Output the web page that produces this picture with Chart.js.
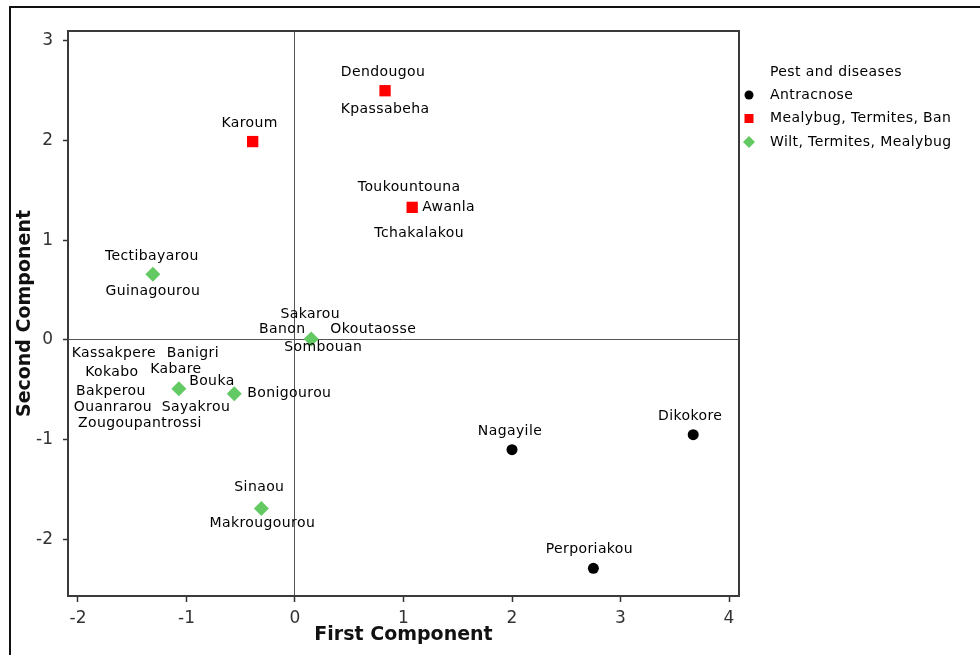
<!DOCTYPE html>
<html>
<head>
<meta charset="utf-8">
<script src="https://cdn.jsdelivr.net/npm/chart.js@4/dist/chart.umd.min.js"></script>
<style>
  html, body { margin: 0; padding: 0; background: #fff; }
  #wrap { position: relative; width: 980px; height: 655px; overflow: hidden; }
  #frame { position: absolute; left: 9px; top: 6px; right: -4px; bottom: -4px;
           border-top: 2px solid #111; border-left: 2px solid #111; }
  #c { position: absolute; left: 0; top: 0; }
</style>
</head>
<body>
<div id="wrap">
  <div id="frame"></div>
  <canvas id="c" width="980" height="655"></canvas>
</div>
<script>
// Principal component scores of the sites, grouped by dominant pest / disease
const seriesNames = ['Antracnose', 'Mealybug, Termites, Ban', 'Wilt, Termites, Mealybug'];
const legendTitle = 'Pest and diseases';

const antracnoseX = [2.00, 3.67, 2.75];
const antracnoseY = [-1.10, -0.95, -2.29];
const antracnoseSites = [['Nagayile'], ['Dikokore'], ['Perporiakou']];

const mealybugX = [0.83, -0.39, 1.08];
const mealybugY = [2.50, 1.99, 1.33];
const mealybugSites = [
  ['Dendougou', 'Kpassabeha'],
  ['Karoum'],
  ['Toukountouna', 'Awanla', 'Tchakalakou']
];

const wiltX = [-1.31, 0.15, -1.07, -0.56, -0.31];
const wiltY = [0.66, 0.01, -0.49, -0.54, -1.69];
const wiltSites = [
  ['Tectibayarou', 'Guinagourou'],
  ['Sakarou', 'Banon', 'Okoutaosse', 'Sombouan'],
  ['Kassakpere', 'Banigri', 'Kokabo', 'Kabare', 'Bouka', 'Bakperou', 'Ouanrarou', 'Sayakrou', 'Zougoupantrossi'],
  ['Bonigourou'],
  ['Sinaou', 'Makrougourou']
];

const xTicks = [-2, -1, 0, 1, 2, 3, 4];
const yTicks = [-2, -1, 0, 1, 2, 3];
const xTitle = 'First Component';
const yTitle = 'Second Component';

// Where each site name sits relative to its marker (px offset of the text centre)
const labelPlacement = {
  Nagayile: [-2, -18], Dikokore: [-3, -18], Perporiakou: [-4, -19],
  Dendougou: [-2, -18], Kpassabeha: [0, 19], Karoum: [-3, -18],
  Toukountouna: [-3, -20], Awanla: [10, 0, 'left'], Tchakalakou: [7, 26],
  Tectibayarou: [-1, -18], Guinagourou: [0, 17],
  Sakarou: [-1, -25], Banon: [-29, -10], Okoutaosse: [62, -10], Sombouan: [12, 8],
  Kassakpere: [-65, -35], Banigri: [14, -35], Kokabo: [-67, -16], Kabare: [-3, -19],
  Bouka: [33, -7], Bakperou: [-68, 3], Ouanrarou: [-66, 19], Sayakrou: [17, 19],
  Zougoupantrossi: [-39, 35], Bonigourou: [13, 0, 'left'],
  Sinaou: [-2, -21], Makrougourou: [1, 15]
};

const toPoints = (xs, ys) => xs.map((x, i) => ({ x: x, y: ys[i] }));
const TEXT_FONT = '14px "DejaVu Sans"';
const TEXT_SPACING = '0.4px';

const siteLabels = {
  id: 'siteLabels',
  afterDatasetsDraw(chart) {
    const ctx = chart.ctx;
    ctx.save();
    ctx.font = TEXT_FONT;
    ctx.letterSpacing = TEXT_SPACING;
    ctx.fillStyle = '#000';
    ctx.textBaseline = 'middle';
    chart.data.datasets.forEach((ds, di) => {
      const meta = chart.getDatasetMeta(di);
      meta.data.forEach((el, j) => {
        (ds.sites[j] || []).forEach(name => {
          const p = labelPlacement[name] || [0, -18];
          ctx.textAlign = p[2] || 'center';
          ctx.fillText(name, el.x + p[0], el.y + p[1]);
        });
      });
    });
    ctx.restore();
  }
};

function marker(ctx, style, x, y, r) {
  ctx.beginPath();
  if (style === 'circle') {
    ctx.arc(x, y, r, 0, Math.PI * 2);
  } else if (style === 'rect') {
    ctx.rect(x - r, y - r, 2 * r, 2 * r);
  } else {
    ctx.moveTo(x, y - r); ctx.lineTo(x + r, y); ctx.lineTo(x, y + r); ctx.lineTo(x - r, y);
    ctx.closePath();
  }
  ctx.fill();
}

const plotFrame = {
  id: 'plotFrame',
  beforeDatasetsDraw(chart) {
    const { ctx, chartArea: a } = chart;
    ctx.save();
    ctx.strokeStyle = '#3a3a3a';
    ctx.lineWidth = 2;
    ctx.strokeRect(a.left, a.top, a.right - a.left, a.bottom - a.top);
    ctx.restore();
  }
};

const sideLegend = {
  id: 'sideLegend',
  afterDraw(chart) {
    const ctx = chart.ctx;
    const sizes = { circle: 4.5, rect: 4.5, rectRot: 6 };
    ctx.save();
    ctx.font = TEXT_FONT;
    ctx.letterSpacing = TEXT_SPACING;
    ctx.textAlign = 'left';
    ctx.textBaseline = 'middle';
    ctx.fillStyle = '#000';
    ctx.fillText(legendTitle, 770, 72);
    chart.data.datasets.forEach((ds, i) => {
      const y = 95 + i * 23.5;
      ctx.fillStyle = ds.backgroundColor;
      marker(ctx, ds.pointStyle, 749, y, sizes[ds.pointStyle]);
      ctx.fillStyle = '#000';
      ctx.fillText(ds.label, 770, y);
    });
    ctx.restore();
  }
};

const tickFont = { family: 'DejaVu Sans', size: 17 };
const titleFont = { family: 'DejaVu Sans', size: 19, weight: 'bold' };
const zeroLine = c => (c.tick && c.tick.value === 0) ? '#555' : 'rgba(0,0,0,0)';

new Chart(document.getElementById('c'), {
  type: 'scatter',
  data: {
    datasets: [
      { label: seriesNames[0], data: toPoints(antracnoseX, antracnoseY), sites: antracnoseSites,
        pointStyle: 'circle', pointRadius: 5.5, backgroundColor: '#000', borderColor: '#000', borderWidth: 0 },
      { label: seriesNames[1], data: toPoints(mealybugX, mealybugY), sites: mealybugSites,
        pointStyle: 'rect', pointRadius: 8, backgroundColor: '#ff0000', borderColor: '#ff0000', borderWidth: 0 },
      { label: seriesNames[2], data: toPoints(wiltX, wiltY), sites: wiltSites,
        pointStyle: 'rectRot', pointRadius: 7.5, backgroundColor: '#63c963', borderColor: '#63c963', borderWidth: 0 }
    ]
  },
  options: {
    responsive: false,
    animation: false,
    devicePixelRatio: 1,
    layout: { padding: { top: 31, right: 241, left: 0, bottom: 0 } },
    plugins: { legend: { display: false }, tooltip: { enabled: false } },
    scales: {
      x: {
        type: 'linear', min: -2.092, max: 4.092,
        afterBuildTicks: s => { s.ticks = xTicks.map(v => ({ value: v })); },
        afterFit: s => { s.height = 59; },
        ticks: { font: tickFont, color: '#333', padding: 6, includeBounds: false },
        grid: { color: zeroLine, lineWidth: 1, tickColor: '#333', tickLength: 6, tickWidth: 1.5 },
        border: { display: false },
        title: { display: true, text: xTitle, font: titleFont, color: '#111', padding: { top: 0, bottom: 9 } }
      },
      y: {
        type: 'linear', min: -2.568, max: 3.099,
        afterBuildTicks: s => { s.ticks = yTicks.map(v => ({ value: v })); },
        afterFit: s => { s.width = 68; },
        ticks: { font: tickFont, color: '#333', padding: 10, includeBounds: false },
        grid: { color: zeroLine, lineWidth: 1, tickColor: '#333', tickLength: 5, tickWidth: 1.5 },
        border: { display: false },
        title: { display: true, text: yTitle, font: titleFont, color: '#111', padding: { top: 14, bottom: 0 } }
      }
    }
  },
  plugins: [plotFrame, siteLabels, sideLegend]
});
</script>
</body>
</html>
